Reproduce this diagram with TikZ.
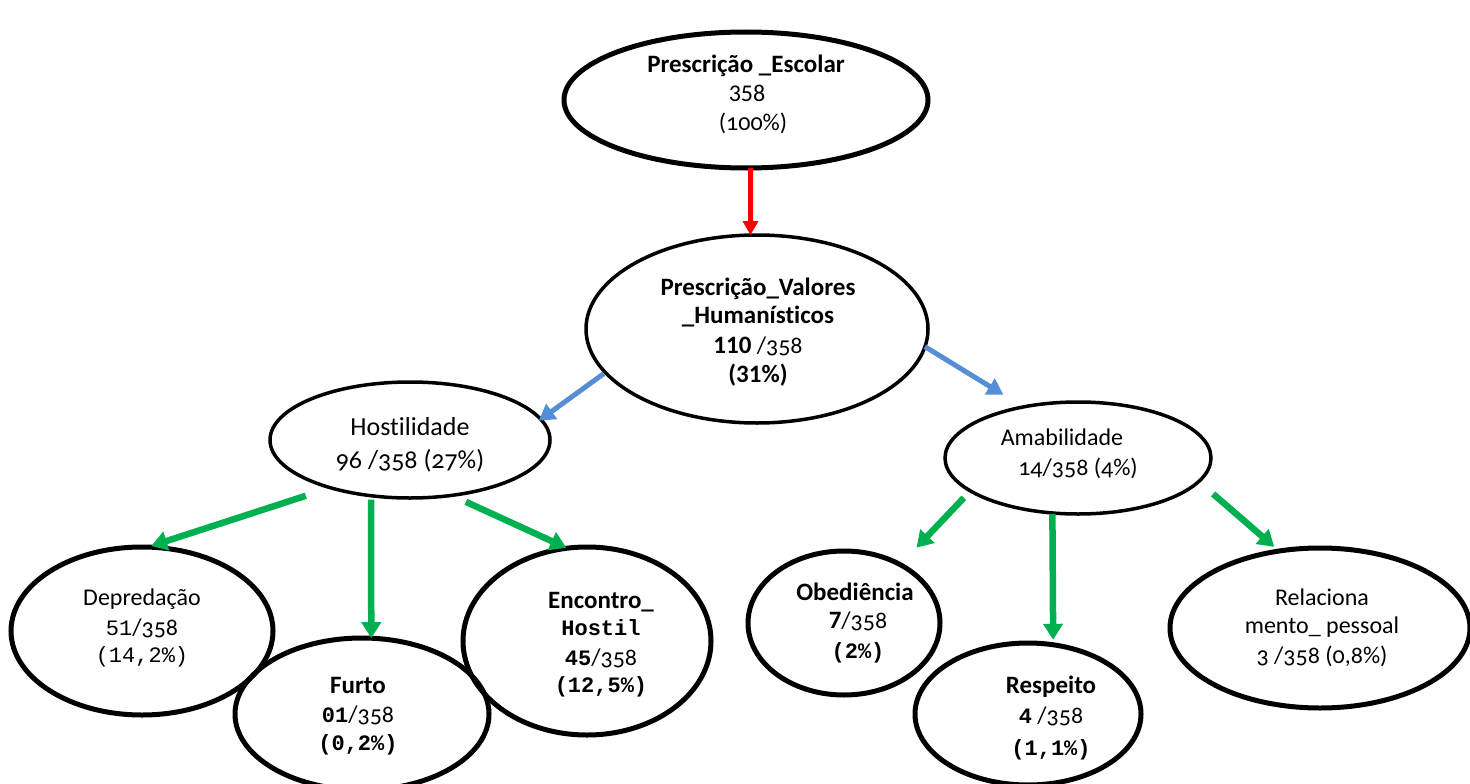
\documentclass[tikz,border=0pt]{standalone}
\usepackage{fontspec}
\setmainfont{Carlito}[Ligatures=NoCommon]
\newfontfamily\osf{Carlito}[Numbers=OldStyle,Ligatures=NoCommon]
\newfontfamily\cour{Liberation Mono}
\usetikzlibrary{arrows.meta,shapes.geometric}

\definecolor{linkred}{RGB}{255,0,0}
\definecolor{linkblue}{RGB}{85,142,213}
\definecolor{linkgreen}{RGB}{0,176,80}

\newcommand\szmain{\fontsize{24}{29}\selectfont}
\newcommand\szbold{\fontsize{25}{29}\selectfont}
\newcommand\szbig{\fontsize{26}{32}\selectfont}
\newcommand\szmono{\fontsize{22}{27}\selectfont}

\tikzset{
  oval/.style={draw=black, ellipse, inner sep=0pt, outer sep=0pt, line width=5pt},
  thinoval/.style={oval, line width=3.5pt},
  txt/.style={anchor=base, inner sep=0pt, outer sep=0pt, font=\szmain},
  btxt/.style={txt, font=\szbold\bfseries},
  redlink/.style={draw=linkred, line width=5pt, -{Triangle[length=14pt,width=15pt]}},
  bluelink/.style={draw=linkblue, line width=5pt, -{Triangle[length=16pt,width=18pt]}},
  greenlink/.style={draw=linkgreen, line width=6.5pt, -{Triangle[length=16pt,width=19pt]}},
}

\begin{document}
\begin{tikzpicture}[x=1pt, y=-1pt]
\useasboundingbox (0,0) rectangle (1470,784);

% ellipses
\node[oval, minimum width=364pt, minimum height=136pt] (top) at (746,100) {};
\node[thinoval, minimum width=342pt, minimum height=188pt] (val) at (757,329) {};
\node[thinoval, minimum width=280pt, minimum height=116pt] (host) at (410,440) {};
\node[thinoval, minimum width=266pt, minimum height=112pt] (amab) at (1078,458) {};
\node[oval, minimum width=262pt, minimum height=168pt] (depr) at (142,631) {};
\node[oval, minimum width=254pt, minimum height=152pt] (furto) at (362,714) {};
\node[oval, minimum width=248pt, minimum height=188pt] (enc) at (587,641) {};
\node[oval, minimum width=192pt, minimum height=144pt] (obed) at (844,623) {};
\node[oval, minimum width=226pt, minimum height=142pt] (resp) at (1028,714) {};
\node[oval, minimum width=300pt, minimum height=160pt] (relac) at (1320,628) {};

% root
\node[btxt] (topA) at (746,73) {Prescrição \_Escolar};
\node[txt] (topB) at (747,102) {358};
\node[txt] (topC) at (753,130) {\osf (100\%)};

% second level
\node[btxt] (valA) at (758,295) {Prescrição\_Valores};
\node[btxt] (valB) at (758,323) {\_Humanísticos};
\node[txt] (valC) at (758,353) {{\szbold\bfseries 110} {\osf /358}};
\node[btxt] (valD) at (758,382) {(31\%)};

% third level
\node[txt, font=\szbig] (hostA) at (410,435) {Hostilidade};
\node[txt, font=\szbig\osf] (hostB) at (410,468) {96 /358 (27\%)};
\node[txt] (amabA) at (1062,445) {Amabilidade};
\node[txt, font=\szmain\osf] (amabB) at (1078,475) {14/358 (4\%)};

% leaves
\node[txt] (deprA) at (142,605) {Depredação};
\node[txt] (deprB) at (142,635) {{\szmono\cour 51}{\osf /358}};
\node[txt, font=\szmono\cour] (deprC) at (142,662) {(14,2\%)};

\node[btxt] (furA) at (358,693) {Furto};
\node[txt] (furB) at (358,722) {{\szmono\cour\bfseries 01}{\osf /358}};
\node[txt, font=\szmono\cour\bfseries] (furC) at (358,750) {(0,2\%)};

\node[btxt] (encA) at (601,608) {Encontro\_};
\node[txt, font=\szmono\cour\bfseries] (encB) at (601,635) {Hostil};
\node[txt] (encC) at (601,665) {{\szmono\cour\bfseries 45}{\osf /358}};
\node[txt, font=\szmono\cour\bfseries] (encD) at (601,692) {(12,5\%)};

\node[btxt] (obeA) at (855,600) {Obediência};
\node[txt] (obeB) at (858,628) {{\szbold\bfseries 7}{\osf /358}};
\node[txt, font=\szmono\cour\bfseries] (obeC) at (858,658) {(2\%)};

\node[btxt] (resA) at (1051,693) {Respeito};
\node[txt] (resB) at (1051,723) {{\szmono\cour\bfseries 4} {\osf /358}};
\node[txt, font=\szmono\cour\bfseries] (resC) at (1051,755) {(1,1\%)};

\node[txt] (relA) at (1322,605) {Relaciona};
\node[txt] (relB) at (1322,633) {mento\_ pessoal};
\node[txt, font=\szmain\osf] (relC) at (1322,663) {3 /358 (0,8\%)};

% connectors
\draw[redlink] (top.-86.7) -- (val.94.3);
\draw[bluelink, shorten <=2pt, shorten >=-2.5pt] (val.196.1) -- (host.9.3);
\draw[bluelink, shorten >=23.3pt] (val.-6.1) -- (amab.137.4);
\draw[greenlink, shorten <=26pt, shorten >=3.5pt] (host.211.6) -- (depr.86.8);
\draw[greenlink, shorten <=4pt] (host.235) -- (furto.83.2);
\draw[greenlink, shorten <=15.6pt, shorten >=1pt] (host.-53.7) -- (enc.102.9);
\draw[greenlink, shorten <=9.5pt, shorten >=23.5pt] (amab.197.9) -- (obed.46);
\draw[greenlink, shorten <=1pt, shorten >=5pt] (amab.245.9) -- (resp.70.1);
\draw[greenlink, shorten <=19pt, shorten >=6.4pt] (amab.-11.8) -- (relac.118.1);
\end{tikzpicture}
\end{document}
